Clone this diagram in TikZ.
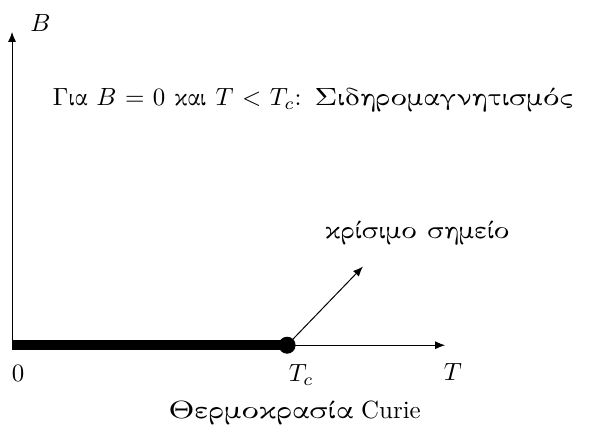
\documentclass[tikz,border=0pt]{standalone}
\usepackage{amsmath}
\usepackage{graphicx}
\usepackage[LGR,TU]{fontenc}
\usetikzlibrary{arrows.meta}

\newcommand{\gr}[1]{{\fontencoding{LGR}\fontfamily{cmr}\selectfont #1}}
\newcommand{\grw}[2]{\resizebox{#1}{\height}{\gr{#2}}}

\tikzset{
  axis/.style={-{Latex[length=4pt,width=3.2pt]}},
  phase/.style={line width=4pt},
  txt/.style={inner sep=0pt,anchor=west},
}

\begin{document}
\begin{tikzpicture}
\useasboundingbox (-0.17,-1.24) rectangle (8.28,4.87);
\coordinate (O) at (0,0);
\coordinate (Btip) at (0,4.42);
\coordinate (Ttip) at (6.11,0);
\coordinate (Tc) at (3.88,0);
\coordinate (Ktip) at (4.95,1.11);
\draw[axis] (O)--(Btip);
\draw[axis] (O)--(Ttip);
\draw[phase] (O)--(Tc);
\filldraw (Tc) circle (3.2pt);
\draw[axis] (Tc)--(Ktip);
\node (labB) at (0.40,4.54) {$B$};
\node[txt] (ferro) at (0.57,3.46) {\makebox[209pt][s]{\gr{Gia} $B=0$ \gr{kai} $T<T_c$: \grw{104pt}{Sidhromagnhtism'oc}}};
\node[txt] (krit) at (4.41,1.58) {\grw{74pt}{kr'isimo shme'io}};
\node (lab0) at (0.085,-0.40) {$0$};
\node (labTc) at (4.08,-0.42) {$T_c$};
\node (labT) at (6.22,-0.38) {$T$};
\node[txt] (curie) at (2.20,-0.95) {\grw{74pt}{Jermokras'ia} Curie};
\end{tikzpicture}
\end{document}
